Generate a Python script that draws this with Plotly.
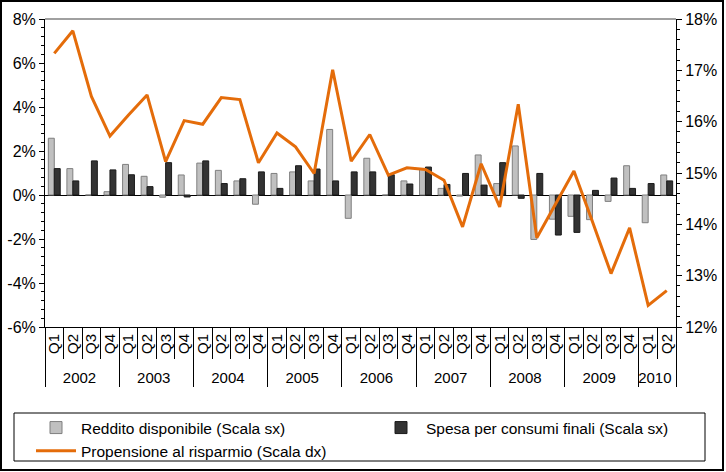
import plotly.graph_objects as go

years = ["2002"] * 4 + ["2003"] * 4 + ["2004"] * 4 + ["2005"] * 4 + ["2006"] * 4 + \
        ["2007"] * 4 + ["2008"] * 4 + ["2009"] * 4 + ["2010"] * 2
quarters = ["Q1", "Q2", "Q3", "Q4"] * 8 + ["Q1", "Q2"]

reddito = [2.58, 1.20, 0.00, 0.15, 1.39, 0.85, -0.10, 0.91, 1.45, 1.12, 0.64, -0.42,
           0.98, 1.05, 0.64, 2.98, -1.06, 1.67, 0.00, 0.64, 1.17, 0.30, -0.05, 1.82,
           0.52, 2.23, -2.02, -1.10, -0.97, -1.12, -0.29, 1.33, -1.26, 0.91]
spesa = [1.20, 0.64, 1.55, 1.14, 0.92, 0.38, 1.47, -0.09, 1.55, 0.52, 0.74, 1.05,
         0.30, 1.33, 1.18, 0.64, 1.05, 1.05, 0.92, 0.50, 1.27, 0.48, 0.98, 0.45,
         1.47, -0.15, 0.98, -1.82, -1.70, 0.21, 0.77, 0.30, 0.52, 0.64]
propensione = [17.33, 17.77, 16.49, 15.72, 16.13, 16.52, 15.22, 16.02, 15.95, 16.47, 16.43, 15.20,
               15.78, 15.51, 14.99, 17.01, 15.23, 15.75, 14.96, 15.10, 15.07, 14.86, 13.95, 15.18,
               14.34, 16.34, 13.74, 14.40, 15.04, 14.05, 13.04, 13.93, 12.42, 12.71]

left_tick_vals = [-6, -4, -2, 0, 2, 4, 6, 8]
left_tick_text = ["-6%", "-4%", "-2%", "0%", "2%", "4%", "6%", "8%"]
right_tick_vals = [12, 13, 14, 15, 16, 17, 18]
right_tick_text = ["12%", "13%", "14%", "15%", "16%", "17%", "18%"]

FONT = "Liberation Sans, Arial, sans-serif"
x = [years, quarters]

# plot area in pixels: left 45, right 676, top 19, bottom 327
PW, PH = 631, 308


def px(v):
    return (v - 45) / PW


def py(v):
    return (327 - v) / PH


fig = go.Figure()
fig.add_trace(go.Bar(
    x=x, y=reddito, name="Reddito disponibile (Scala sx)",
    marker=dict(color="#c0c0c0", line=dict(color="#7f7f7f", width=1)),
    yaxis="y", legend="legend", legendrank=1))
fig.add_trace(go.Bar(
    x=x, y=spesa, name="Spesa per consumi finali (Scala sx)",
    marker=dict(color="#333333", line=dict(color="#1a1a1a", width=1)),
    yaxis="y", legend="legend2"))
fig.add_trace(go.Scatter(
    x=x, y=propensione, name="Propensione al risparmio (Scala dx)",
    mode="lines", line=dict(color="#E46C0A", width=3), yaxis="y2",
    legend="legend", legendrank=2))

legend_common = dict(
    orientation="v", xanchor="left", yanchor="top",
    borderwidth=0, bgcolor="rgba(0,0,0,0)",
    font=dict(family=FONT, size=15.5, color="black"),
    tracegroupgap=0, itemwidth=40,
)

fig.update_layout(
    width=726, height=472,
    margin=dict(l=45, r=50, t=19, b=145, autoexpand=False),
    paper_bgcolor="white", plot_bgcolor="white",
    font=dict(family=FONT, size=15, color="black"),
    barmode="group", bargap=0.36, bargroupgap=0,
    showlegend=True,
    legend=dict(x=px(31), y=py(411), **legend_common),
    legend2=dict(x=px(376), y=py(411), **legend_common),
    xaxis=dict(
        type="multicategory", showgrid=False, zeroline=False, automargin=False,
        showline=True, linecolor="black", linewidth=1,
        ticks="outside", tickson="boundaries", ticklen=31, tickcolor="black",
        tickangle=-90, tickfont=dict(family=FONT, size=15, color="black"),
        showdividers=True, dividercolor="black", dividerwidth=1,
    ),
    xaxis2=dict(
        overlaying="x", anchor="free", position=6 / 14, range=[-0.5, 33.5],
        showgrid=False, zeroline=False, showline=False, showticklabels=False,
        ticks="outside", tick0=0.5, dtick=1, ticklen=4, tickcolor="black",
    ),
    yaxis=dict(
        range=[-6, 8], tickvals=left_tick_vals, ticktext=left_tick_text,
        showgrid=False, zeroline=True, zerolinecolor="black", zerolinewidth=1,
        showline=True, linecolor="black", linewidth=1, automargin=False,
        ticks="outside", ticklen=5, tickcolor="black",
        minor=dict(dtick=0.4, tick0=0, ticks="outside", ticklen=3, tickcolor="black"),
        tickfont=dict(family=FONT, size=16, color="black"),
    ),
    yaxis2=dict(
        range=[12, 18], overlaying="y", side="right", anchor="x",
        tickvals=right_tick_vals, ticktext=right_tick_text,
        showgrid=False, zeroline=False, automargin=False,
        showline=True, linecolor="black", linewidth=1,
        ticks="outside", ticklen=5, tickcolor="black",
        minor=dict(dtick=0.2, tick0=12, ticks="outside", ticklen=3, tickcolor="black"),
        tickfont=dict(family=FONT, size=16, color="black"),
    ),
    shapes=[
        dict(type="line", xref="paper", yref="paper", x0=0, x1=1, y0=1, y1=1,
             line=dict(color="#808080", width=1.5)),
        dict(type="rect", xref="paper", yref="paper",
             x0=px(1), x1=px(723), y0=py(470), y1=py(1),
             line=dict(color="black", width=2), layer="below"),
        dict(type="rect", xref="paper", yref="paper",
             x0=px(14), x1=px(705), y0=py(461), y1=py(413),
             line=dict(color="black", width=1), layer="below"),
    ],
)

fig.write_html(
    "out.html",
    config={"displayModeBar": False},
    post_script="document.body.style.margin='0';document.body.style.overflow='hidden';",
)
